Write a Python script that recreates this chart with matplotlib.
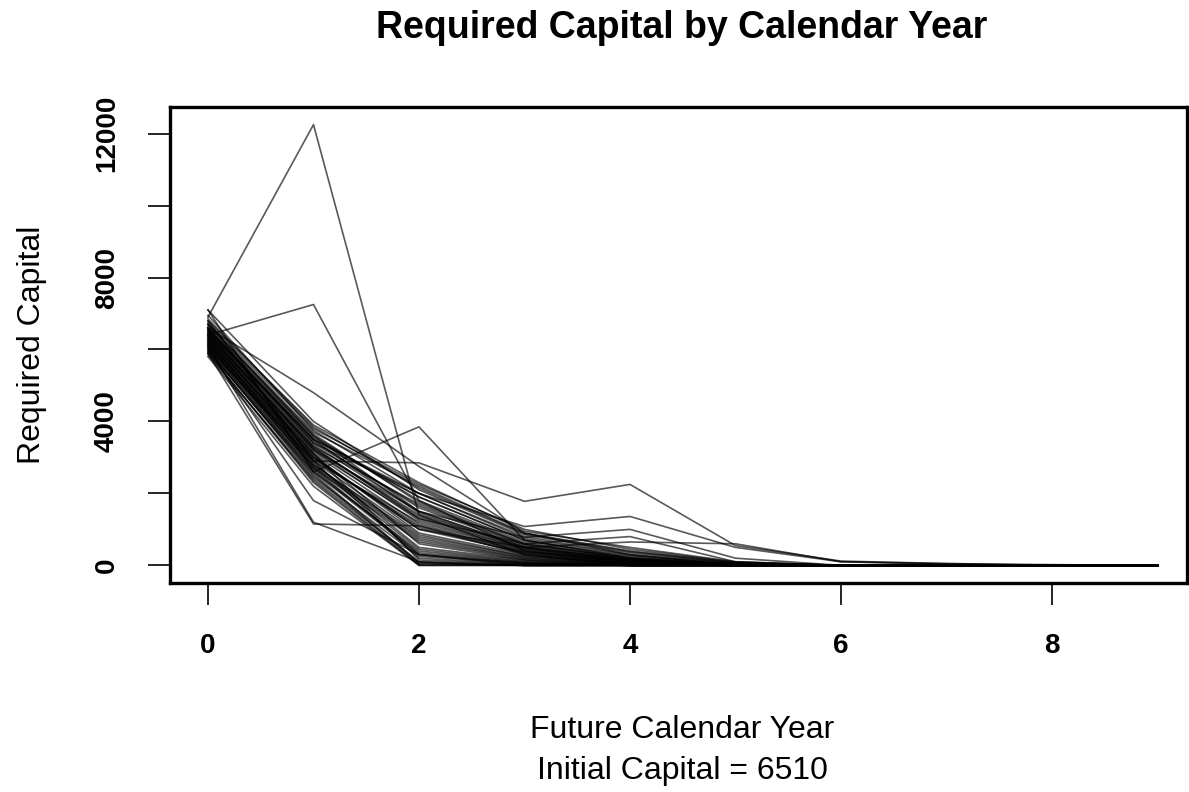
import numpy as np
import matplotlib.pyplot as plt

plt.rcParams['font.family'] = ['Liberation Sans', 'DejaVu Sans']

years = [0, 1, 2, 3, 4, 5, 6, 7, 8, 9]
initial_capital = 6510

# required capital per simulated path, one list per future calendar year
year0 = [6900, 6400, 7100, 6800, 6600, 6500, 5900, 6100, 6000, 6700, 6400, 6200,
         6050, 6300, 6550, 6150, 5850, 6700, 6450, 6250, 6000, 6600,
         6350, 5950, 6800, 6100, 6500, 6200, 7100, 6400, 5900, 6650,
         6300, 6050, 6750, 6150, 6450, 5800, 6550, 6250, 6950, 6350,
         6100, 6600, 6000, 6400, 6200, 6850, 5950, 6500, 6300, 6700,
         6150, 6450, 6050, 6250, 6600, 5900, 6350, 6550]
year1 = [12250, 7250, 2600, 2900, 4800, 3500, 1150, 1200, 1800, 3600, 3300, 3000,
         2900, 3100, 3400, 2700, 2400, 3700, 3200, 2800, 2500, 3500,
         3000, 2600, 3900, 2750, 3300, 2900, 4000, 3150, 2300, 3600,
         3050, 2650, 3800, 2850, 3250, 2200, 3450, 2950, 3750, 3100,
         2700, 3550, 2450, 3200, 2800, 3850, 2550, 3350, 3000, 3650,
         2750, 3250, 2600, 2900, 3400, 2350, 3100, 3500]
year2 = [1400, 1800, 3850, 2850, 2750, 2000, 1100, 100, 300, 1500, 1300, 1000,
         1200, 600, 2000, 300, 100, 2200, 1500, 800, 50, 1900,
         1000, 400, 2300, 700, 1700, 200, 2100, 1300, 0, 1800,
         900, 350, 2250, 500, 1400, 0, 1600, 1100, 2000, 150,
         650, 1900, 250, 1250, 750, 2150, 80, 1500, 1050, 1750,
         450, 1350, 300, 850, 1650, 30, 1150, 1450]
year3 = [300, 400, 700, 1780, 900, 1080, 300, 0, 0, 780, 600, 500,
         400, 150, 800, 50, 0, 900, 500, 250, 0, 700,
         350, 100, 950, 200, 600, 30, 850, 450, 0, 650,
         300, 80, 1000, 150, 500, 0, 550, 380, 750, 20,
         180, 700, 60, 420, 220, 880, 0, 520, 330, 600,
         120, 460, 70, 260, 580, 0, 360, 480]
year4 = [50, 100, 200, 2250, 300, 1360, 0, 0, 0, 1000, 800, 650,
         100, 0, 300, 0, 0, 400, 150, 50, 0, 250,
         80, 0, 500, 30, 200, 0, 350, 120, 0, 180,
         60, 0, 450, 20, 140, 0, 160, 90, 280, 0,
         40, 220, 0, 110, 50, 380, 0, 150, 70, 200,
         20, 130, 0, 60, 170, 0, 100, 130]
year5 = [0, 0, 0, 550, 0, 500, 0, 0, 0, 200, 100, 600,
         0, 0, 50, 0, 0, 80, 0, 0, 0, 30,
         0, 0, 100, 0, 20, 0, 60, 0, 0, 0,
         0, 0, 90, 0, 0, 0, 0, 0, 40, 0,
         0, 30, 0, 0, 0, 70, 0, 0, 0, 20,
         0, 0, 0, 0, 0, 0, 0, 0]
year6 = [0, 0, 0, 120, 0, 100, 0, 0, 0, 0, 0, 100] + [0] * 48
year7 = [0, 0, 0, 50, 0, 30, 0, 0, 0, 0, 0, 50] + [0] * 48
year8 = [0, 0, 0, 20, 0, 0, 0, 0, 0, 0, 0, 0] + [0] * 48
year9 = [0] * 60

paths = np.column_stack([year0, year1, year2, year3, year4,
                         year5, year6, year7, year8, year9])

fig = plt.figure(figsize=(11.89, 7.92), dpi=100)
ax = fig.add_axes([170 / 1189, 1 - 583 / 792, 1017 / 1189, 476 / 792])

for p in paths:
    ax.plot(years, p, color='black', alpha=0.65, lw=1.2)

ax.set_xlim(-0.36, 9.28)
ax.set_ylim(-490, 12740)
ax.set_xticks([0, 2, 4, 6, 8])
ax.set_yticks([0, 2000, 4000, 6000, 8000, 10000, 12000])
ax.set_yticklabels(['0', '', '4000', '', '8000', '', '12000'],
                   rotation=90, va='center')
for lab in ax.get_xticklabels() + ax.get_yticklabels():
    lab.set_fontweight('bold')
    lab.set_fontsize(20)
ax.tick_params(axis='x', length=16, width=1.2, pad=20)
ax.tick_params(axis='y', length=16, width=1.2, pad=20)
for s in ax.spines.values():
    s.set_linewidth(2.4)

fig.text(682 / 1189, 1 - 28 / 792, 'Required Capital by Calendar Year',
         ha='center', va='center', fontsize=27, fontweight='bold')
fig.text(682 / 1189, 1 - 730 / 792, 'Future Calendar Year',
         ha='center', va='center', fontsize=23)
fig.text(682 / 1189, 1 - 771 / 792, 'Initial Capital = %d' % initial_capital,
         ha='center', va='center', fontsize=23)
fig.text(32 / 1189, 1 - 345 / 792, 'Required Capital', rotation=90,
         ha='center', va='center', fontsize=23)

fig.savefig('out.png', dpi=100)
